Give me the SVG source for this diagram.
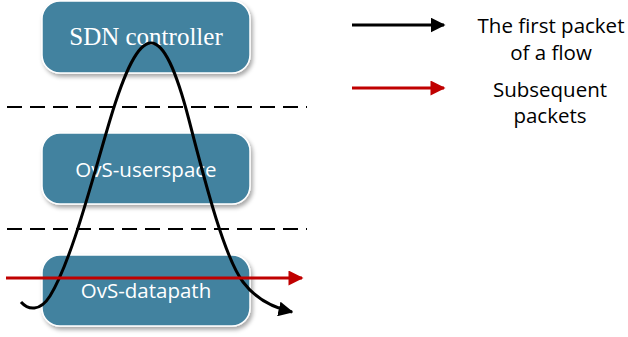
<svg xmlns="http://www.w3.org/2000/svg" width="628" height="337" viewBox="0 0 628 337">
<defs>
<style>
.box{fill:#43829F;stroke:#ffffff;stroke-width:1.5}
.lbl{fill:#ffffff;font-family:"Open Sans","Liberation Sans",sans-serif;font-size:20.5px;text-anchor:middle}
.ser{font-family:"Liberation Serif","DejaVu Serif",serif;font-size:25px}
.leg{fill:#000000;font-family:"Open Sans","Liberation Sans",sans-serif;font-size:20.5px;text-anchor:middle}
.dash{stroke:#000;stroke-width:2;stroke-dasharray:15 8;fill:none}
</style>
<filter id="sh" x="-10%" y="-10%" width="125%" height="130%">
<feDropShadow dx="2" dy="3" stdDeviation="2" flood-color="#000" flood-opacity="0.35"/>
</filter>
<marker id="ab" viewBox="0 0 10 10" refX="9" refY="5" markerWidth="5" markerHeight="5" orient="auto" markerUnits="strokeWidth">
<path d="M0,0 L10,5 L0,10 z" fill="#000"/>
</marker>
<marker id="ar" viewBox="0 0 10 10" refX="9" refY="5" markerWidth="5.5" markerHeight="5" orient="auto" markerUnits="strokeWidth">
<path d="M0,0 L10,5 L0,10 z" fill="#C00000"/>
</marker>
</defs>
<g id="sdn-controller">
<rect class="box" x="42" y="1" width="208" height="72" rx="18" filter="url(#sh)"/>
<text class="lbl ser" x="146" y="45">SDN controller</text>
</g>
<g id="ovs-userspace">
<rect class="box" x="42" y="133" width="208" height="71" rx="18" filter="url(#sh)"/>
<text class="lbl" x="146" y="177">OvS-userspace</text>
</g>
<g id="ovs-datapath">
<rect class="box" x="42" y="255" width="208" height="71" rx="18" filter="url(#sh)"/>
<text class="lbl" x="146" y="298">OvS-datapath</text>
</g>
<g id="dividers">
<line class="dash" x1="7" y1="107" x2="307" y2="107"/>
<line class="dash" x1="7" y1="229" x2="307" y2="229"/>
</g>
<g id="connectors">
<path d="M 21 302 C 28 310, 40 312, 50 296 C 72 260, 92 180, 110 120 C 125 70, 138 43, 151 43 C 164 43, 176 70, 189 120 C 207 190, 225 258, 243 282 C 255 298, 270 307, 292 312" fill="none" stroke="#000" stroke-width="3" marker-end="url(#ab)"/>
<line x1="6" y1="278" x2="302" y2="278" stroke="#C00000" stroke-width="3" marker-end="url(#ar)"/>
</g>
<g id="legend">
<line x1="352" y1="25" x2="444" y2="25" stroke="#000" stroke-width="3" marker-end="url(#ab)"/>
<line x1="352" y1="88" x2="444" y2="88" stroke="#C00000" stroke-width="3" marker-end="url(#ar)"/>
<text class="leg" x="551" y="33">The first packet</text>
<text class="leg" x="551" y="60">of a flow</text>
<text class="leg" x="550" y="97">Subsequent</text>
<text class="leg" x="550" y="123">packets</text>
</g>
</svg>
